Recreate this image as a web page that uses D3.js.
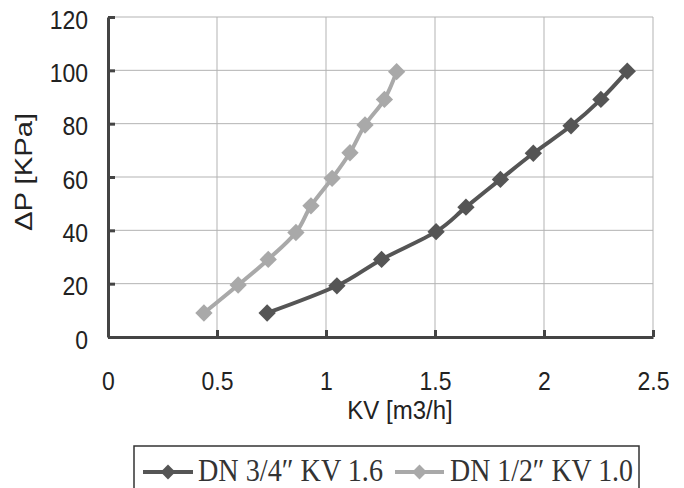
<!DOCTYPE html>
<html><head><meta charset="utf-8">
<script src="https://cdn.jsdelivr.net/npm/d3@7"></script>
<style>body{margin:0;background:#fff}svg{display:block}</style>
</head><body>
<svg id="c" width="684" height="488"></svg>
<script>
// Data
const seriesNames = ["DN 3/4\u2033 KV 1.6", "DN 1/2\u2033 KV 1.0"];
const kvDN34 = [0.73, 1.05, 1.255, 1.505, 1.642, 1.80, 1.951, 2.124, 2.261, 2.382];
const dpDN34 = [9, 19.2, 29.1, 39.5, 48.7, 59.1, 68.9, 79.2, 89.1, 99.7];
const kvDN12 = [0.44, 0.597, 0.735, 0.862, 0.931, 1.028, 1.110, 1.179, 1.268, 1.324];
const dpDN12 = [9, 19.5, 29.1, 39.2, 49.2, 59.5, 69.1, 79.5, 89.1, 99.5];
const xTicks = [0, 0.5, 1, 1.5, 2, 2.5];
const yTicks = [0, 20, 40, 60, 80, 100, 120];
const xTitle = "KV [m3/h]";
const yTitle = "\u0394P [KPa]";

const colors = ["#555555", "#a9a9a9"];
const svg = d3.select("#c");
const x = d3.scaleLinear().domain([0, 2.5]).range([108, 653]);
const y = d3.scaleLinear().domain([0, 120]).range([337, 17]);

// gridlines
const g = svg.append("g");
g.selectAll(".vg").data(xTicks.slice(1)).join("line")
  .attr("x1", d => x(d)).attr("x2", d => x(d)).attr("y1", y(0)).attr("y2", y(120))
  .attr("stroke", "#b3b3b3").attr("stroke-width", 1);
g.selectAll(".hg").data(yTicks.slice(1)).join("line")
  .attr("x1", x(0)).attr("x2", x(2.5)).attr("y1", d => y(d)).attr("y2", d => y(d))
  .attr("stroke", "#b3b3b3").attr("stroke-width", 1);

// axes
const axisColor = "#444";
const xAxis = d3.axisBottom(x).tickValues(xTicks).tickSizeInner(-7).tickSizeOuter(0).tickFormat(d3.format("~g"));
const yAxis = d3.axisLeft(y).tickValues(yTicks).tickSizeInner(-7).tickSizeOuter(0).tickFormat(d3.format("d"));
const gx = svg.append("g").attr("transform", `translate(0,${y(0)})`).call(xAxis);
const gy = svg.append("g").attr("transform", `translate(${x(0)},0)`).call(yAxis);
[gx, gy].forEach(a => {
  a.select(".domain").attr("stroke", axisColor).attr("stroke-width", 3);
  a.selectAll(".tick line").attr("stroke", axisColor).attr("stroke-width", 3);
  a.selectAll(".tick text").attr("fill", "#222").attr("font-family", "Liberation Sans, Arial, sans-serif").attr("font-size", 23);
});
gx.selectAll(".tick text").attr("y", 0).attr("dy", 0)
  .attr("transform", "translate(0,53) scale(1,1.12)");
gy.selectAll(".tick text").attr("x", 0).attr("dy", 0)
  .attr("transform", "translate(-20,11) scale(1,1.12)");

// titles
svg.append("text").attr("x", 400).attr("y", 419).attr("text-anchor", "middle")
  .attr("font-family", "Liberation Sans, Arial, sans-serif").attr("font-size", 24).attr("fill", "#222")
  .attr("transform", "translate(400,419) scale(1,1.1) translate(-400,-419)")
  .text(xTitle);
svg.append("text").attr("transform", "translate(32,172) rotate(-90)").attr("text-anchor", "middle")
  .attr("font-family", "Liberation Sans, Arial, sans-serif").attr("font-size", 24).attr("fill", "#222")
  .attr("textLength", 118).attr("lengthAdjust", "spacingAndGlyphs")
  .text(yTitle);

// series
const series = [
  {kv: kvDN34, dp: dpDN34, color: colors[0]},
  {kv: kvDN12, dp: dpDN12, color: colors[1]}
];
const line = d3.line().x(d => x(d[0])).y(d => y(d[1])).curve(d3.curveCatmullRom.alpha(0));
const diamond = d3.symbol().type(d3.symbolSquare).size(150);
series.forEach(s => {
  const pts = s.kv.map((k, i) => [k, s.dp[i]]);
  svg.append("path").datum(pts).attr("d", line).attr("fill", "none")
    .attr("stroke", s.color).attr("stroke-width", 4);
  svg.append("g").selectAll("path").data(pts).join("path")
    .attr("d", diamond)
    .attr("transform", d => `translate(${x(d[0])},${y(d[1])}) rotate(45)`)
    .attr("fill", s.color);
});

// legend
const lg = svg.append("g");
lg.append("rect").attr("x", 134).attr("y", 446).attr("width", 505).attr("height", 46)
  .attr("fill", "#fff").attr("stroke", "#333").attr("stroke-width", 1.5);
const legendItems = [
  {lx1: 143, lx2: 193, tx: 198, tw: 185},
  {lx1: 395, lx2: 444, tx: 450, tw: 183}
];
const ly = 472;
legendItems.forEach((it, i) => {
  lg.append("line").attr("x1", it.lx1).attr("x2", it.lx2).attr("y1", ly).attr("y2", ly)
    .attr("stroke", colors[i]).attr("stroke-width", 4);
  lg.append("path").attr("d", d3.symbol().type(d3.symbolSquare).size(110))
    .attr("transform", `translate(${(it.lx1 + it.lx2) / 2},${ly}) rotate(45)`).attr("fill", colors[i]);
  lg.append("text").attr("x", it.tx).attr("y", 481)
    .attr("font-family", "Liberation Serif, DejaVu Serif, serif").attr("font-size", 31).attr("fill", "#333")
    .attr("textLength", it.tw).attr("lengthAdjust", "spacingAndGlyphs")
    .text(seriesNames[i]);
});
</script>
</body></html>
